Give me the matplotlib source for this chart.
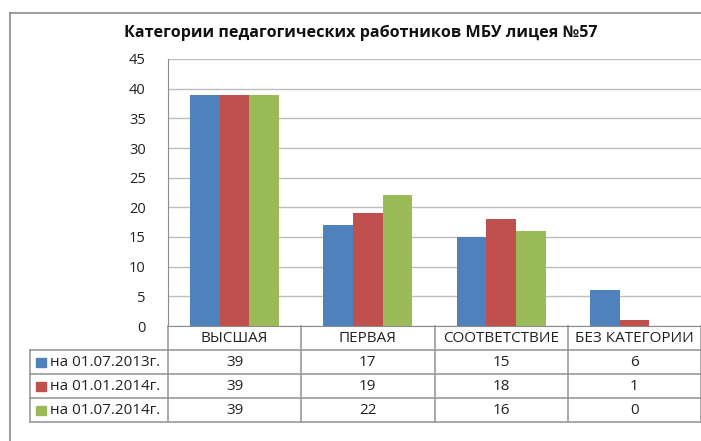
import matplotlib
matplotlib.use("Agg")
import matplotlib.pyplot as plt
import matplotlib.transforms as mtransforms
from matplotlib.patches import Rectangle

plt.rcParams['font.family'] = ['Open Sans', 'DejaVu Sans']

title = "Категории педагогических работников МБУ лицея №57"
categories = ["ВЫСШАЯ", "ПЕРВАЯ", "СООТВЕТСТВИЕ", "БЕЗ КАТЕГОРИИ"]
series_names = ["на 01.07.2013г.", "на 01.01.2014г.", "на 01.07.2014г."]
values_2013_07 = [39, 17, 15, 6]
values_2014_01 = [39, 19, 18, 1]
values_2014_07 = [39, 22, 16, 0]
series = [values_2013_07, values_2014_01, values_2014_07]
colors = ["#4F81BD", "#C0504D", "#9BBB59"]
yticks = [0, 5, 10, 15, 20, 25, 30, 35, 40, 45]

W, H = 701, 441
fig = plt.figure(figsize=(W / 100, H / 100), dpi=100)

# overlay in pixel coordinates for frame and table
ov = fig.add_axes([0, 0, 1, 1], zorder=0)
ov.set_xlim(0, W)
ov.set_ylim(H, 0)
ov.axis("off")

ax_left, ax_right, ax_top, ax_bottom = 168, 701, 59, 326
ax = fig.add_axes([ax_left / W, 1 - ax_bottom / H,
                   (ax_right - ax_left) / W, (ax_bottom - ax_top) / H], zorder=2)
ax.patch.set_alpha(0)

n = len(categories)
bw = 0.223
for i, (vals, c) in enumerate(zip(series, colors)):
    xs = [k + 0.5 + (i - 1) * bw for k in range(n)]
    ax.bar(xs, vals, width=bw, color=c, zorder=3, linewidth=0)

ax.set_xlim(0, n)
ax.set_ylim(0, 45)
ax.set_yticks(yticks)
ax.set_yticklabels([str(t) for t in yticks], fontsize=10.5, color="#222222")
ax.tick_params(axis="y", length=0, pad=16)
ax.set_xticks([])
ax.grid(axis="y", color="#bdbdbd", linewidth=1, zorder=0)
for s in ["top", "right"]:
    ax.spines[s].set_visible(False)
ax.spines["left"].set_color("#8c8c8c")
ax.spines["bottom"].set_color("#8c8c8c")

line_c = "#9a9a9a"
# outer chart frame
ov.plot([10, 10], [13, H], color="#8c8c8c", lw=1.2)
ov.plot([10, W], [13, 13], color="#8c8c8c", lw=1.2)

ov.text(361, 33, title, ha="center", va="center", fontsize=11.6,
        fontweight="bold", color="#111111")

# data table
row_top = [326, 350, 374, 398]
row_h = 24
table_bottom = row_top[-1] + row_h
bt = mtransforms.blended_transform_factory(ax.transData, ov.transData)

for y in row_top[1:] + [table_bottom]:
    ov.plot([30, W], [y, y], color=line_c, lw=1.2)
ov.plot([30, 30], [row_top[1], table_bottom], color=line_c, lw=1.2)
for k in range(n + 1):
    ax.plot([k, k], [row_top[0], table_bottom], color=line_c, lw=1.2,
            transform=bt, clip_on=False)

for k, cat in enumerate(categories):
    ax.text(k + 0.5, row_top[0] + row_h / 2, cat, transform=bt,
            ha="center", va="center", fontsize=11, color="#222222")

for i, (name, vals, c) in enumerate(zip(series_names, series, colors)):
    yc = row_top[i + 1] + row_h / 2
    ov.add_patch(Rectangle((36, yc - 4.5), 10, 9, color=c))
    ov.text(50, yc, name, ha="left", va="center", fontsize=11, color="#222222")
    for k, v in enumerate(vals):
        ax.text(k + 0.5, yc, str(v), transform=bt, ha="center",
                va="center", fontsize=11, color="#222222")

fig.savefig("out.png", dpi=100)
